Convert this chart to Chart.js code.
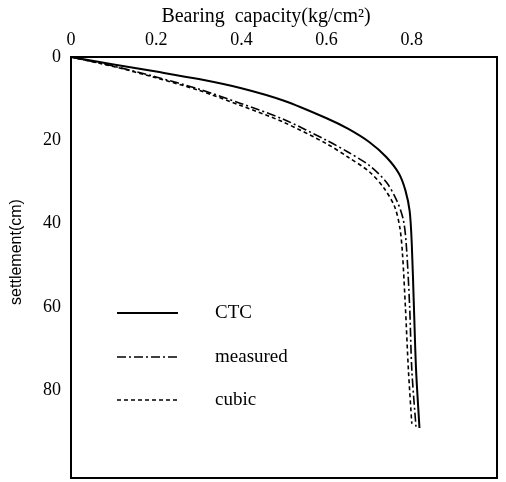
<!DOCTYPE html>
<html>
<head>
<meta charset="utf-8">
<script src="https://cdn.jsdelivr.net/npm/chart.js@4/dist/chart.umd.min.js"></script>
<style>
  html, body { margin: 0; padding: 0; background: #fff; }
  #wrap { width: 506px; height: 482px; }
</style>
</head>
<body>
<div id="wrap"><canvas id="grafico"></canvas></div>
<script>
// bearing capacity (kg/cm2) vs settlement (cm)
const ctcCarga = [0, 0.1, 0.2, 0.3, 0.4, 0.5, 0.6, 0.65, 0.7, 0.74, 0.77, 0.785, 0.795, 0.8, 0.805, 0.81, 0.818];
const ctcRecalque = [0, 1.8, 3.5, 5.3, 7.5, 10.5, 14.7, 17.2, 20.4, 24, 28, 32, 37, 45, 60, 75, 89];

const medidoCarga = [0, 0.1, 0.2, 0.3, 0.4, 0.5, 0.6, 0.65, 0.7, 0.74, 0.765, 0.78, 0.787, 0.795, 0.8, 0.81];
const medidoRecalque = [0, 2.2, 4.8, 7.7, 11.2, 15, 20, 22.8, 26, 30, 34.5, 39, 45, 60, 75, 89];

const cubicoCarga = [0, 0.1, 0.2, 0.3, 0.4, 0.5, 0.6, 0.65, 0.7, 0.735, 0.76, 0.772, 0.778, 0.785, 0.792, 0.8];
const cubicoRecalque = [0, 2.3, 5, 8, 11.7, 15.7, 20.8, 24, 27.5, 31.5, 36, 41, 47, 60, 75, 88];

const xTicks = [0, 0.2, 0.4, 0.6, 0.8];
const yTicks = [0, 20, 40, 60, 80];

const nomes = ['CTC', 'measured', 'cubic'];
const tituloX = 'Bearing  capacity(kg/cm²)';
const tituloY = 'settlement(cm)';

const pares = (xs, ys) => xs.map((x, i) => ({ x: x, y: ys[i] }));

const fonteSerif = 'Liberation Serif';

const series = [
    { label: nomes[0], data: pares(ctcCarga, ctcRecalque), dash: [], width: 2 },
    { label: nomes[1], data: pares(medidoCarga, medidoRecalque), dash: [9, 3, 2, 3], width: 1.6 },
    { label: nomes[2], data: pares(cubicoCarga, cubicoRecalque), dash: [4, 3], width: 1.6 }
];

// moldura, titulos dos eixos e legenda dentro da area
const molduraLegenda = {
    id: 'molduraLegenda',
    afterDraw(chart) {
        const { ctx, chartArea: a } = chart;
        ctx.save();
        ctx.strokeStyle = '#000';
        ctx.lineWidth = 2;
        ctx.setLineDash([]);
        ctx.strokeRect(a.left, a.top, a.right - a.left, a.bottom - a.top);

        ctx.fillStyle = '#000';
        ctx.textAlign = 'center';
        ctx.textBaseline = 'middle';
        ctx.font = '20px ' + fonteSerif;
        ctx.fillText(tituloX, 266, 17);

        ctx.save();
        ctx.translate(17, 252);
        ctx.rotate(-Math.PI / 2);
        ctx.font = '16px Liberation Sans';
        ctx.fillText(tituloY, 0, 0);
        ctx.restore();

        const linhaY = [313, 357, 400];
        ctx.textAlign = 'left';
        series.forEach((s, i) => {
            ctx.beginPath();
            ctx.lineWidth = s.width;
            ctx.setLineDash(s.dash);
            ctx.moveTo(117, linhaY[i]);
            ctx.lineTo(178, linhaY[i]);
            ctx.stroke();
            ctx.setLineDash([]);
            ctx.font = '19px ' + fonteSerif;
            ctx.fillText(s.label, 215, linhaY[i]);
        });
        ctx.restore();
    }
};

new Chart(document.getElementById('grafico'), {
    type: 'line',
    data: {
        datasets: series.map(s => ({
            label: s.label,
            data: s.data,
            borderColor: '#000',
            borderWidth: s.width,
            borderDash: s.dash,
            pointRadius: 0,
            fill: false,
            tension: 0.3
        }))
    },
    options: {
        responsive: true,
        maintainAspectRatio: false,
        animation: false,
        layout: { padding: { right: 9, bottom: 4, top: 0, left: 0 } },
        scales: {
            x: {
                type: 'linear',
                position: 'top',
                min: 0,
                max: 1.0,
                afterFit: (scale) => {
                    scale.height = 57;
                    scale.paddingLeft = 0;
                    scale.paddingRight = 0;
                },
                afterBuildTicks: (scale) => { scale.ticks = xTicks.map(v => ({ value: v })); },
                grid: { display: false, drawTicks: true, tickLength: 4, color: '#000' },
                border: { display: false },
                ticks: {
                    color: '#000',
                    padding: 2,
                    font: { family: fonteSerif, size: 18 },
                    callback: (v) => v === 0 ? '0' : v.toFixed(1)
                },
                title: { display: false }
            },
            y: {
                type: 'linear',
                reverse: true,
                min: 0,
                max: 101,
                afterFit: (scale) => {
                    scale.width = 71;
                    scale.paddingTop = 0;
                    scale.paddingBottom = 0;
                },
                afterBuildTicks: (scale) => { scale.ticks = yTicks.map(v => ({ value: v })); },
                grid: { display: false, drawTicks: true, tickLength: 5, color: '#000' },
                border: { display: false },
                ticks: {
                    color: '#000',
                    padding: 5,
                    font: { family: fonteSerif, size: 18 }
                },
                title: { display: false }
            }
        },
        plugins: {
            legend: { display: false },
            tooltip: { enabled: false }
        }
    },
    plugins: [molduraLegenda]
});
</script>
</body>
</html>
